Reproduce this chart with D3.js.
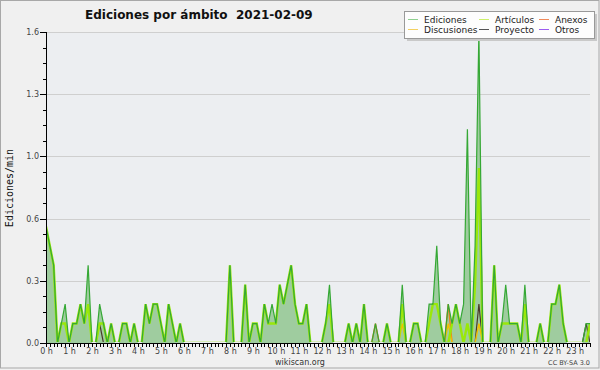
<!DOCTYPE html>
<html>
<head>
<meta charset="utf-8">
<script src="https://cdn.jsdelivr.net/npm/d3@7/dist/d3.min.js"></script>
<style>
  body { margin: 0; background: #f0f0f0; }
  svg { display: block; font-family: "DejaVu Sans", sans-serif; }
  .axis path, .axis line { stroke: #000; shape-rendering: crispEdges; }
  .axis text { fill: #444; font-size: 8px; font-family: "DejaVu Sans", sans-serif; }
  .grid line { stroke: #cfcfcf; shape-rendering: crispEdges; }
</style>
</head>
<body>
<svg id="chart" width="600" height="370"></svg>
<script>
// one value per 10 minutes, edits per minute
const title = 'Ediciones por ámbito  2021-02-09';
const yLabel = 'Ediciones/min';
const hours = d3.range(24);
const yTicks = [0, 0.32, 0.64, 0.96, 1.28, 1.6];

const ediciones = [
  0.6, 0.5, 0.4, 0, 0.1, 0.2,     // 0 h
  0, 0.1, 0.1, 0.2, 0.1, 0.4,     // 1 h
  0, 0, 0.2, 0.1, 0, 0.1,         // 2 h
  0, 0, 0.1, 0.1, 0, 0.1,         // 3 h
  0, 0, 0.2, 0.1, 0.2, 0.2,       // 4 h
  0.1, 0, 0.2, 0.1, 0, 0.1,       // 5 h
  0, 0, 0, 0, 0, 0,               // 6 h
  0, 0, 0, 0, 0, 0,               // 7 h
  0.4, 0, 0, 0, 0.3, 0,           // 8 h
  0.1, 0.1, 0, 0.2, 0.1, 0.2,     // 9 h
  0.1, 0.3, 0.2, 0.3, 0.4, 0.2,   // 10 h
  0.1, 0.1, 0.2, 0, 0, 0,         // 11 h
  0, 0.1, 0.3, 0, 0, 0,           // 12 h
  0, 0.1, 0, 0.1, 0, 0.2,         // 13 h
  0, 0, 0.1, 0, 0, 0.1,           // 14 h
  0, 0, 0, 0.3, 0, 0,             // 15 h
  0.1, 0.1, 0, 0, 0.2, 0.2,       // 16 h
  0.5, 0.1, 0, 0.2, 0.1, 0.2,     // 17 h
  0.1, 0.2, 1.1, 0, 0.5, 1.6,     // 18 h
  0, 0, 0, 0.4, 0, 0.1,           // 19 h
  0.3, 0.1, 0.1, 0.1, 0, 0.3,     // 20 h
  0, 0, 0, 0.1, 0, 0,             // 21 h
  0.2, 0.2, 0.3, 0.1, 0, 0,       // 22 h
  0, 0, 0, 0.1, 0.1               // 23 h
];

const articulos = [
  0.6, 0.5, 0.4, 0, 0.1, 0.1,     // 0 h
  0, 0.1, 0.1, 0.2, 0.1, 0.2,     // 1 h
  0, 0, 0.1, 0.1, 0, 0.1,         // 2 h
  0, 0, 0.1, 0.1, 0, 0.1,         // 3 h
  0, 0, 0.2, 0.1, 0.2, 0.2,       // 4 h
  0.1, 0, 0.2, 0.1, 0, 0.1,       // 5 h
  0, 0, 0, 0, 0, 0,               // 6 h
  0, 0, 0, 0, 0, 0,               // 7 h
  0.4, 0, 0, 0, 0.3, 0,           // 8 h
  0.1, 0.1, 0, 0.2, 0.1, 0.1,     // 9 h
  0.1, 0.3, 0.2, 0.3, 0.4, 0.2,   // 10 h
  0.1, 0.1, 0.2, 0, 0, 0,         // 11 h
  0, 0.1, 0.2, 0, 0, 0,           // 12 h
  0, 0.1, 0, 0.1, 0, 0.2,         // 13 h
  0, 0, 0, 0, 0, 0.1,             // 14 h
  0, 0, 0, 0.2, 0, 0,             // 15 h
  0.1, 0.1, 0, 0, 0.1, 0.2,       // 16 h
  0.2, 0.1, 0, 0, 0.1, 0.2,       // 17 h
  0.1, 0, 0.1, 0, 0.3, 0.9,       // 18 h
  0, 0, 0, 0.4, 0, 0.1,           // 19 h
  0.1, 0.1, 0.1, 0.1, 0, 0.2,     // 20 h
  0, 0, 0, 0.1, 0, 0,             // 21 h
  0.2, 0.2, 0.3, 0.1, 0, 0,       // 22 h
  0, 0, 0, 0, 0.1                 // 23 h
];

const discusiones = [
  0,0,0,0,0,0, 0,0,0,0,0,0,       // 0-1 h
  0,0,0,0,0,0, 0,0,0,0,0,0,       // 2-3 h
  0,0,0,0,0,0, 0,0,0,0,0,0,       // 4-5 h
  0,0,0,0,0,0, 0,0,0,0,0,0,       // 6-7 h
  0,0,0,0,0,0, 0,0,0,0,0,0,       // 8-9 h
  0,0,0,0,0,0, 0,0,0,0,0,0,       // 10-11 h
  0,0,0,0,0,0, 0,0,0,0,0,0,       // 12-13 h
  0,0,0,0,0,0, 0,0,0,0.1,0,0,     // 14-15 h
  0,0,0,0,0,0, 0,0,0,0.1,0,0,     // 16-17 h
  0,0,0,0,0,0.1, 0,0,0,0,0,0,     // 18-19 h
  0,0,0,0,0,0, 0,0,0,0,0,0,       // 20-21 h
  0,0,0,0,0,0, 0,0,0,0,0          // 22-23 h
];

const anexos = [
  0,0,0,0,0,0, 0,0,0,0,0,0,       // 0-1 h
  0,0,0,0,0,0, 0,0,0,0,0,0,       // 2-3 h
  0,0,0,0,0,0, 0,0,0,0,0,0,       // 4-5 h
  0,0,0,0,0,0, 0,0,0,0,0,0,       // 6-7 h
  0,0,0,0,0,0, 0,0,0,0,0,0,       // 8-9 h
  0,0,0,0,0,0, 0,0,0,0,0,0,       // 10-11 h
  0,0,0,0,0,0, 0,0,0,0,0,0,       // 12-13 h
  0,0,0.1,0,0,0, 0,0,0,0,0,0,     // 14-15 h
  0,0,0,0,0,0, 0,0,0,0.2,0,0,     // 16-17 h
  0,0,0,0,0,0, 0,0,0,0,0,0,       // 18-19 h
  0,0,0,0,0,0, 0,0,0,0,0,0,       // 20-21 h
  0,0,0,0,0,0, 0,0,0,0,0          // 22-23 h
];

const proyecto = [
  0,0,0,0,0,0, 0,0,0,0,0,0,       // 0-1 h
  0,0,0.1,0,0,0, 0,0,0,0,0,0,     // 2-3 h
  0,0,0,0,0,0, 0,0,0,0,0,0,       // 4-5 h
  0,0,0,0,0,0, 0,0,0,0,0,0,       // 6-7 h
  0,0,0,0,0,0, 0,0,0,0,0,0,       // 8-9 h
  0,0,0,0,0,0, 0,0,0,0,0,0,       // 10-11 h
  0,0,0,0,0,0, 0,0,0,0,0,0,       // 12-13 h
  0,0,0,0,0,0, 0,0,0,0,0,0,       // 14-15 h
  0,0,0,0,0,0, 0,0,0,0,0,0,       // 16-17 h
  0,0,0,0,0,0.2, 0,0,0,0,0,0,     // 18-19 h
  0,0,0,0,0,0, 0,0,0,0,0,0,       // 20-21 h
  0,0,0,0,0,0, 0,0,0,0.1,0        // 22-23 h
];

const otros = ediciones.map(() => 0);

const series = [
  { name: 'Otros', values: otros, color: '#8a3fe0', legend: '#9b5cf0', width: 1.2 },
  { name: 'Proyecto', values: proyecto, color: '#4a3a2a', legend: '#555', width: 1.2 },
  { name: 'Anexos', values: anexos, color: '#f07a20', legend: '#f08a5a', width: 1.4 },
  { name: 'Discusiones', values: discusiones, color: '#f0c000', legend: '#f3d060', width: 1.4 },
  { name: 'Artículos', values: articulos, color: '#9ae80a', legend: '#cdf06a', width: 2.4 },
  { name: 'Ediciones', values: ediciones, color: '#35a835', legend: '#8fd08f', width: 1.2 }
];
const legendOrder = ['Ediciones', 'Artículos', 'Anexos', 'Discusiones', 'Proyecto', 'Otros'];

const svg = d3.select('#chart');
const W = 600, H = 370;
const margin = { top: 32, right: 10, bottom: 27, left: 46 };

const x = d3.scaleLinear().domain([0, ediciones.length - 1]).range([margin.left, W - margin.right]);
const y = d3.scaleLinear().domain([0, 1.6]).range([H - margin.bottom, margin.top]);

svg.append('rect').attr('x', 0.5).attr('y', 0.5).attr('width', W - 1.5).attr('height', H - 2.5)
  .attr('fill', '#f0f0f0').attr('stroke', '#a8a8a8');

svg.append('rect')
  .attr('x', x.range()[0]).attr('y', y(1.6))
  .attr('width', x.range()[1] - x.range()[0]).attr('height', y(0) - y(1.6))
  .attr('fill', '#eceef1');

// keep the lines above the x axis, zero runs are hidden by it
svg.append('clipPath').attr('id', 'plot-clip')
  .append('rect')
  .attr('x', x.range()[0]).attr('y', y(1.6) - 2)
  .attr('width', x.range()[1] - x.range()[0]).attr('height', y(0) - y(1.6) + 1);

svg.append('g').attr('class', 'grid')
  .selectAll('line').data(yTicks.slice(1)).join('line')
    .attr('x1', x.range()[0]).attr('x2', x.range()[1])
    .attr('y1', d => Math.round(y(d)) + 0.5).attr('y2', d => Math.round(y(d)) + 0.5);

// area under total edits
svg.append('path')
  .datum(ediciones)
  .attr('fill', '#9fcc9f')
  .attr('d', d3.area().x((d, i) => x(i)).y0(y(0)).y1(d => y(d)));

const line = d3.line().x((d, i) => x(i)).y(d => y(d));
svg.append('g').attr('clip-path', 'url(#plot-clip)')
  .selectAll('path').data(series).join('path')
  .attr('fill', 'none')
  .attr('stroke', d => d.color)
  .attr('stroke-width', d => d.width)
  .attr('stroke-linejoin', 'miter')
  .attr('d', d => line(d.values));

// y axis
svg.append('g').attr('class', 'axis')
  .attr('transform', `translate(${margin.left},0)`)
  .call(d3.axisLeft(y).tickValues(d3.range(0, 1.601, 0.08)).tickSize(3).tickFormat(''))
  .call(g => g.select('.domain').remove());
svg.append('g').attr('class', 'axis')
  .attr('transform', `translate(${margin.left},0)`)
  .call(d3.axisLeft(y).tickValues(yTicks).tickSize(6).tickPadding(1).tickFormat(d3.format('.1f')))
  .call(g => g.select('.domain').attr('d', `M0.5,${y(1.6)}V${y(0)}`).attr('stroke-width', 1.3));

// x axis
svg.append('g').attr('class', 'axis')
  .attr('transform', `translate(0,${y(0)})`)
  .call(d3.axisBottom(x).tickValues(d3.range(ediciones.length)).tickSize(4).tickFormat(''))
  .call(g => g.select('.domain').remove());
svg.append('g').attr('class', 'axis')
  .attr('transform', `translate(0,${y(0)})`)
  .call(d3.axisBottom(x).tickValues(hours.map(h => h * 6)).tickSize(4).tickPadding(1.5)
    .tickFormat(d => (d / 6) + ' h'))
  .call(g => g.select('.domain').attr('d', `M${x.range()[0]},0.5H${x.range()[1]}`).attr('stroke-width', 1.5));

svg.append('text')
  .attr('x', 85).attr('y', 19)
  .style('white-space', 'pre')
  .attr('font-size', 12).attr('font-weight', 'bold').attr('fill', '#111')
  .text(title);

svg.append('text')
  .attr('transform', 'translate(13,188) rotate(-90)')
  .attr('text-anchor', 'middle')
  .attr('font-family', '"DejaVu Sans Mono", monospace')
  .attr('font-size', 10).attr('fill', '#111')
  .text(yLabel);

svg.append('text')
  .attr('x', 300).attr('y', 365).attr('text-anchor', 'middle')
  .attr('font-size', 8).attr('fill', '#333')
  .text('wikiscan.org');

svg.append('text')
  .attr('x', 590).attr('y', 365).attr('text-anchor', 'end')
  .attr('font-size', 6.5).attr('fill', '#444')
  .text('CC BY-SA 3.0');

// legend
const legend = svg.append('g').attr('transform', 'translate(404,11)');
legend.append('rect').attr('x', 3).attr('y', 3).attr('width', 190).attr('height', 27).attr('fill', '#c9c9c9');
legend.append('rect').attr('x', 0.5).attr('y', 0.5).attr('width', 190).attr('height', 27)
  .attr('fill', '#fdfdfd').attr('stroke', '#999');

const colX = [4, 75, 135];
const items = legend.selectAll('g.item')
  .data(legendOrder.map(n => series.find(s => s.name === n)))
  .join('g').attr('class', 'item')
  .attr('transform', (d, i) => `translate(${colX[i % 3]},${i < 3 ? 8 : 18})`);
items.append('line').attr('x1', 0).attr('x2', 10).attr('y1', 0.5).attr('y2', 0.5)
  .attr('stroke', d => d.legend).attr('stroke-width', 1);
items.append('text').attr('x', 16).attr('y', 3.5)
  .attr('font-size', 9).attr('fill', '#222')
  .text(d => d.name);
</script>
</body>
</html>
